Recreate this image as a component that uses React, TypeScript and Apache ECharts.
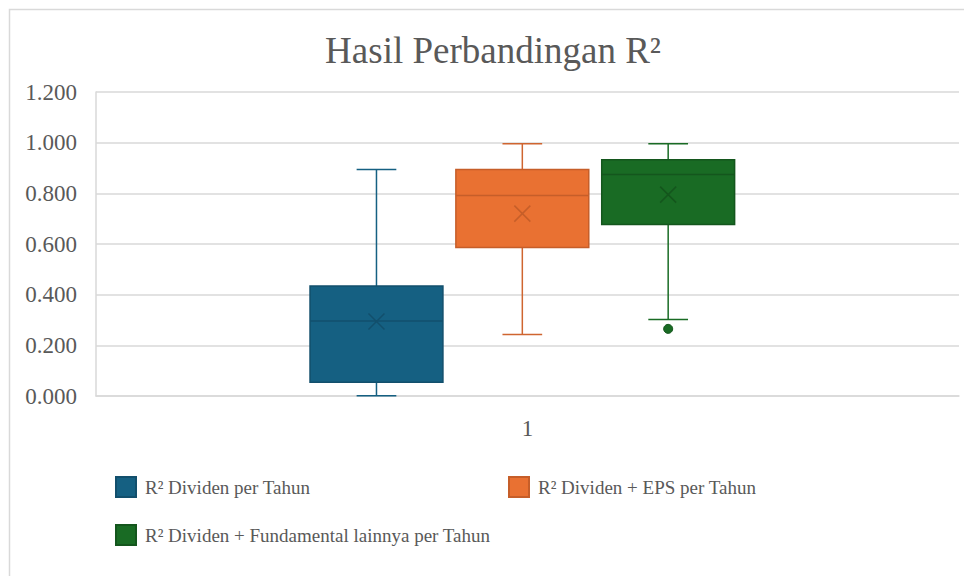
import React, { useEffect, useRef } from "react";
import * as echarts from "echarts";

const categories = ["1"];
const seriesNames = [
  "R² Dividen per Tahun",
  "R² Dividen + EPS per Tahun",
  "R² Dividen + Fundamental lainnya per Tahun",
];
// [min, q1, median, q3, max, mean]
const boxDividen = [0.001, 0.054, 0.296, 0.434, 0.894, 0.294];
const boxDividenEps = [0.243, 0.586, 0.791, 0.894, 0.996, 0.72];
const boxDividenFund = [0.302, 0.677, 0.874, 0.933, 0.996, 0.795];
const outliersDividen: number[] = [];
const outliersDividenEps: number[] = [];
const outliersDividenFund = [0.265];
const yTicks = [0, 0.2, 0.4, 0.6, 0.8, 1.0, 1.2];

const boxes = [boxDividen, boxDividenEps, boxDividenFund];
const outliers = [outliersDividen, outliersDividenEps, outliersDividenFund];
const fills = ["#156082", "#E97132", "#196B24"];
const strokes = ["#124f6c", "#c65e29", "#14561d"];
const whiskerColors = ["#156082", "#cf6530", "#196B24"];

const OFFSETS = [-0.175, -0.006, 0.163];
const BOX_FRAC = 0.154;
const CAP_FRAC = 0.046;
const FONT = "Liberation Serif";
const TEXT = "#595959";

export default function App() {
  const ref = useRef<HTMLDivElement>(null);
  useEffect(() => {
    if (!ref.current) return;
    const chart = echarts.init(ref.current, null, { renderer: "svg" });

    const series = boxes.map((b, i) => ({
      type: "custom",
      name: seriesNames[i],
      itemStyle: { color: fills[i], borderColor: strokes[i], borderWidth: 1 },
      data: [[0, ...b]],
      encode: { x: 0, y: [1, 2, 3, 4, 5] },
      renderItem: (params: any, api: any) => {
        const x0 = api.value(0);
        const base = api.coord([x0, 0]);
        const band = api.size([1, 0])[0];
        const cx = base[0] + band * OFFSETS[i];
        const w = band * BOX_FRAC;
        const cap = band * CAP_FRAC;
        const y = (v: number) => api.coord([x0, v])[1];
        const [mn, q1, md, q3, mx, mean] = [1, 2, 3, 4, 5, 6].map((k) => api.value(k));
        const wl = { stroke: whiskerColors[i], lineWidth: 1.5 };
        const children: any[] = [
          { type: "line", shape: { x1: cx, y1: y(mx), x2: cx, y2: y(q3) }, style: wl },
          { type: "line", shape: { x1: cx, y1: y(q1), x2: cx, y2: y(mn) }, style: wl },
          { type: "line", shape: { x1: cx - cap / 2, y1: y(mx), x2: cx + cap / 2, y2: y(mx) }, style: wl },
          { type: "line", shape: { x1: cx - cap / 2, y1: y(mn), x2: cx + cap / 2, y2: y(mn) }, style: wl },
          {
            type: "rect",
            shape: { x: cx - w / 2, y: y(q3), width: w, height: y(q1) - y(q3) },
            style: { fill: fills[i], stroke: strokes[i], lineWidth: 1.5 },
          },
          { type: "line", shape: { x1: cx - w / 2, y1: y(md), x2: cx + w / 2, y2: y(md) }, style: { stroke: strokes[i], lineWidth: 1.5 } },
        ];
        const ym = y(mean);
        const s = 8;
        children.push(
          { type: "line", shape: { x1: cx - s, y1: ym - s, x2: cx + s, y2: ym + s }, style: { stroke: strokes[i], lineWidth: 1.5 } },
          { type: "line", shape: { x1: cx - s, y1: ym + s, x2: cx + s, y2: ym - s }, style: { stroke: strokes[i], lineWidth: 1.5 } }
        );
        outliers[i].forEach((o) => {
          children.push({ type: "circle", shape: { cx, cy: y(o), r: 4.5 }, style: { fill: fills[i], stroke: strokes[i], lineWidth: 1 } });
        });
        return { type: "group", children };
      },
    }));

    const legendPos = [
      { left: 115, top: 476 },
      { left: 508, top: 476 },
      { left: 115, top: 524 },
    ];

    chart.setOption({
      animation: false,
      backgroundColor: "#ffffff",
      textStyle: { fontFamily: FONT },
      title: {
        text: "Hasil Perbandingan R²",
        left: 488,
        top: 27,
        textAlign: "center",
        textStyle: { fontFamily: FONT, fontSize: 37, fontWeight: "normal", color: TEXT },
      },
      legend: legendPos.map((p, i) => ({
        data: [seriesNames[i]],
        left: p.left,
        top: p.top,
        padding: 0,
        icon: "rect",
        itemWidth: 20,
        itemHeight: 20,
        textStyle: { fontFamily: FONT, fontSize: 19, color: TEXT, padding: [0, 0, 0, 4] },
      })),
      grid: { left: 96, right: 5, top: 92, bottom: 180 },
      xAxis: {
        type: "category",
        data: categories,
        axisTick: { show: false },
        axisLine: { show: true, lineStyle: { color: "#d9d9d9", width: 1.5 } },
        axisLabel: { fontFamily: FONT, fontSize: 23, color: TEXT, margin: 21 },
      },
      yAxis: {
        type: "value",
        min: yTicks[0],
        max: yTicks[yTicks.length - 1],
        interval: 0.2,
        axisLine: { show: true, lineStyle: { color: "#d9d9d9", width: 1.5 } },
        axisTick: { show: false },
        splitLine: { lineStyle: { color: "#d9d9d9", width: 1.5 } },
        axisLabel: {
          fontFamily: FONT,
          fontSize: 23,
          color: TEXT,
          margin: 19,
          formatter: (v: number) => v.toFixed(3),
        },
      },
      graphic: [
        {
          type: "rect",
          shape: { x: 9.5, y: 9.5, width: 2000, height: 2000 },
          style: { fill: "none", stroke: "#d9d9d9", lineWidth: 1.5 },
          silent: true,
        },
      ],
      series,
    });
    return () => chart.dispose();
  }, []);
  return (
    <div
      ref={ref}
      style={{ position: "absolute", left: 0, top: 0, width: 964, height: 576 }}
    />
  );
}
